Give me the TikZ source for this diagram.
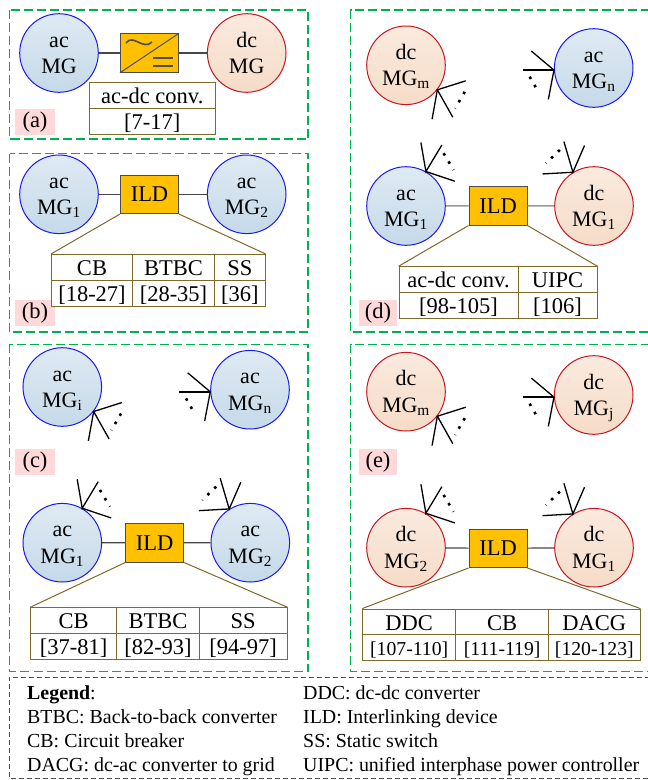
\documentclass[tikz,border=0pt]{standalone}
\usepackage{fontspec}
\setmainfont{Liberation Serif}
\usetikzlibrary{arrows.meta}

\definecolor{framegreen}{HTML}{00B050}
\definecolor{legendgray}{HTML}{505050}
\definecolor{tagpink}{HTML}{FFD9D9}
\definecolor{ildgold}{HTML}{FFC000}
\definecolor{tablebrown}{HTML}{7F6A2A}
\definecolor{acblue}{HTML}{1A1AF0}
\definecolor{dcred}{HTML}{C8141E}
\definecolor{actop}{HTML}{DFEAF3}
\definecolor{acbottom}{HTML}{C5D9E9}
\definecolor{dctop}{HTML}{FAEADE}
\definecolor{dcbottom}{HTML}{F6DCC8}

\tikzset{
    frame/.style={draw=framegreen, line width=1.5pt, dash pattern=on 9pt off 4pt},
    legendframe/.style={draw=legendgray, line width=1pt, dash pattern=on 5pt off 3pt},
    tag/.style={fill=tagpink, inner sep=0pt, minimum height=25.7pt},
    acmg/.style={circle, draw=acblue, line width=1pt, inner sep=0pt, minimum size=78.6pt, align=center,
        top color=actop, bottom color=acbottom, text height=41pt, text depth=0pt, font=\fontsize{22pt}{26.5pt}\selectfont},
    dcmg/.style={circle, draw=dcred, line width=1pt, inner sep=0pt, minimum size=78.6pt, align=center,
        top color=dctop, bottom color=dcbottom, text height=41pt, text depth=0pt, font=\fontsize{22pt}{26.5pt}\selectfont},
    ild/.style={draw=black!70, line width=1pt, fill=ildgold, inner sep=0pt, minimum width=58pt, minimum height=38.5pt},
    link/.style={draw=black!72, line width=1.2pt},
    zoomline/.style={draw=tablebrown, line width=1pt},
    cell/.style={draw=tablebrown, line width=1pt, fill=white, inner sep=0pt, minimum height=25.8pt,
        text height=19pt, text depth=3pt},
    legendtext/.style={anchor=base west, inner sep=0pt, font=\fontsize{19.9pt}{22pt}\selectfont},
    spoke/.style={line width=1.3pt},
    dots/.style={line width=2.6pt, dash pattern=on 2.6pt off 6.9pt},
    fanbr/.pic={
        \draw[spoke] (28.4,-9) -- (0,0) -- (15.4,27.4);
        \draw[spoke] (0,0) -- (-5.3,29.4);
        \draw[dots] (27.4,2) -- (17.7,18.7);
    },
    fanl/.pic={
        \draw[line width=2pt] (-31.3,0) -- (0,0);
        \draw[spoke] (-22.6,-19) -- (0,0) -- (-5.6,29.3);
        \draw[dots] (-24.3,6.6) -- (-15.3,22.3);
    },
    fantr/.pic={
        \draw[spoke] (-5,-29) -- (0,0) -- (16,-26.6);
        \draw[spoke] (0,0) -- (29,9.7);
        \draw[dots] (17.7,-18.3) -- (27.7,-1.6);
    },
    fantl/.pic={
        \draw[spoke] (-9,-30.7) -- (0,0) -- (11.6,-26.7);
        \draw[spoke] (0,0) -- (-30.4,1.7);
        \draw[dots] (-13,-22.3) -- (-27,-9);
    },
}

\begin{document}
\begin{tikzpicture}[x=1pt, y=-1pt, font=\fontsize{22.5pt}{26.5pt}\selectfont]
    \useasboundingbox (0,0) rectangle (648,780);

    \draw[frame] (9.5,10) rectangle (308,139);
    \node[tag, minimum width=40pt] (taga) at (35,121.9) {(a)};
    \node[acmg] (aac) at (59,53) {ac\\MG};
    \node[dcmg] (adc) at (246.7,53) {dc\\MG};
    \node[ild] (aconv) at (149.5,53) {};
    \draw[link] (aac) -- (aconv);
    \draw[link] (aconv) -- (adc);
    \draw[draw=black!70, line width=1pt] (aconv.south west) -- (aconv.north east);
    \draw[draw=black!70, line width=1.6pt] (126,43) .. controls (133,33) and (143,51) .. (152,42);
    \draw[draw=black!70, line width=1.6pt] (152.7,57.7) -- (173.3,57.7);
    \draw[draw=black!70, line width=1.6pt] (152.7,65.7) -- (173.3,65.7);
    \node[cell, minimum width=125.5pt] (aconvh) at (152.25,95.4) {ac-dc conv.};
    \node[cell, minimum width=125.5pt] (aconvr) at (152.25,121.4) {[7-17]};

    \draw[frame] (9.5,153.5) rectangle (308,332);
    \node[tag, minimum width=40pt] (tagb) at (35,312.9) {(b)};
    \node[acmg] (bac1) at (59,194.3) {ac\\MG\textsubscript{1}};
    \node[acmg] (bac2) at (246.7,194.3) {ac\\MG\textsubscript{2}};
    \node[ild] (bild) at (149.5,194.3) {ILD};
    \draw[link] (bac1) -- (bild);
    \draw[link] (bild) -- (bac2);
    \node[cell, minimum width=80.6pt] (bcbh) at (92,267.3) {CB};
    \node[cell, minimum width=82.4pt] (bbtbch) at (173.5,267.3) {BTBC};
    \node[cell, minimum width=50.3pt] (bssh) at (239.85,267.3) {SS};
    \node[cell, minimum width=80.6pt] (bcbr) at (92,293.2) {[18-27]};
    \node[cell, minimum width=82.4pt] (bbtbcr) at (173.5,293.2) {[28-35]};
    \node[cell, minimum width=50.3pt] (bssr) at (239.85,293.2) {[36]};
    \draw[zoomline] (bild.south west) -- (bcbh.north west);
    \draw[zoomline] (bild.south east) -- (bssh.north east);

    \draw[frame] (9.5,344.3) rectangle (308,671.3);
    \node[tag, minimum width=40pt] (tagc) at (35,461.9) {(c)};
    \node[acmg] (cacn1) at (62.3,387) {ac\\MG\textsubscript{i}};
    \node[acmg] (cacn2) at (250,389.7) {ac\\MG\textsubscript{n}};
    \node[acmg] (cac1) at (62.3,542.7) {ac\\MG\textsubscript{1}};
    \node[acmg] (cac2) at (250.3,542.7) {ac\\MG\textsubscript{2}};
    \pic at (cacn1.-38) {fanbr};
    \pic at (cacn2.183) {fanl};
    \pic at (cac1.60) {fantr};
    \pic at (cac2.122) {fantl};
    \node[ild] (cild) at (154.7,542.8) {ILD};
    \draw[link] (cac1) -- (cild);
    \draw[link] (cild) -- (cac2);
    \node[cell, minimum width=86pt] (ccbh) at (73.7,620.7) {CB};
    \node[cell, minimum width=82.6pt] (cbtbch) at (158,620.7) {BTBC};
    \node[cell, minimum width=87.7pt] (cssh) at (243.15,620.7) {SS};
    \node[cell, minimum width=86pt] (ccbr) at (73.7,646.5) {[37-81]};
    \node[cell, minimum width=82.6pt] (cbtbcr) at (158,646.5) {[82-93]};
    \node[cell, minimum width=87.7pt] (cssr) at (243.15,646.5) {[94-97]};
    \draw[zoomline] (cild.south west) -- (ccbh.north west);
    \draw[zoomline] (cild.south east) -- (cssh.north east);

    \draw[frame] (650,10) -- (350.7,10) -- (350.7,332) -- (650,332);
    \node[tag, minimum width=38pt] (tagd) at (378,312.7) {(d)};
    \node[dcmg] (ddcm) at (406,65.3) {dc\\MG\textsubscript{m}};
    \node[acmg] (dacn) at (593.7,68) {ac\\MG\textsubscript{n}};
    \node[acmg] (dac1) at (406,206) {ac\\MG\textsubscript{1}};
    \node[dcmg] (ddc1) at (594,206) {dc\\MG\textsubscript{1}};
    \pic at (ddcm.-38) {fanbr};
    \pic at (dacn.183) {fanl};
    \pic at (dac1.60) {fantr};
    \pic at (ddc1.122) {fantl};
    \node[ild] (dild) at (498,205.8) {ILD};
    \draw[draw=black!40, line width=1.5pt] (dac1) -- (dild);
    \draw[draw=black!40, line width=1.5pt] (dild) -- (ddc1);
    \node[cell, minimum width=119pt] (dconvh) at (458.5,279.7) {ac-dc conv.};
    \node[cell, minimum width=79pt] (duipch) at (557.5,279.7) {UIPC};
    \node[cell, minimum width=119pt] (dconvr) at (458.5,305.5) {[98-105]};
    \node[cell, minimum width=79pt] (duipcr) at (557.5,305.5) {[106]};
    \draw[zoomline] (dild.south west) -- (dconvh.north west);
    \draw[zoomline] (dild.south east) -- (duipch.north east);

    \draw[frame] (650,344.3) -- (350.7,344.3) -- (350.7,671.3) -- (650,671.3);
    \node[tag, minimum width=38pt] (tage) at (378,461.9) {(e)};
    \node[dcmg] (edcm) at (406,391.7) {dc\\MG\textsubscript{m}};
    \node[dcmg] (edcj) at (593.7,395) {dc\\MG\textsubscript{j}};
    \node[dcmg] (edc2) at (406,547.7) {dc\\MG\textsubscript{2}};
    \node[dcmg] (edc1) at (594,547.7) {dc\\MG\textsubscript{1}};
    \pic at (edcm.-38) {fanbr};
    \pic at (edcj.183) {fanl};
    \pic at (edc2.60) {fantr};
    \pic at (edc1.122) {fantl};
    \node[ild] (eild) at (498,548.3) {ILD};
    \draw[link] (edc2) -- (eild);
    \draw[link] (eild) -- (edc1);
    \node[cell, minimum width=93pt] (eddch) at (409.2,622) {DDC};
    \node[cell, minimum width=93pt] (ecbh) at (502.2,622) {CB};
    \node[cell, minimum width=91.3pt] (edacgh) at (594.35,622) {DACG};
    \node[cell, minimum width=93pt, font=\fontsize{19.7pt}{24pt}\selectfont] (eddcr) at (409.2,647.85) {[107-110]};
    \node[cell, minimum width=93pt, font=\fontsize{19.7pt}{24pt}\selectfont] (ecbr) at (502.2,647.85) {[111-119]};
    \node[cell, minimum width=91.3pt, font=\fontsize{19.7pt}{24pt}\selectfont] (edacgr) at (594.35,647.85) {[120-123]};
    \draw[zoomline] (eild.south west) -- (eddch.north west);
    \draw[zoomline] (eild.south east) -- (edacgh.north east);

    \draw[legendframe] (650,677.3) -- (9,677.3) -- (9,778.3) -- (650,778.3);
    \node[legendtext] (leg) at (27,699) {\textbf{Legend}:};
    \node[legendtext] (legbtbc) at (27,723) {BTBC: Back-to-back converter};
    \node[legendtext] (legcb) at (27,747) {CB: Circuit breaker};
    \node[legendtext] (legdacg) at (27,771) {DACG: dc-ac converter to grid};
    \node[legendtext] (legddc) at (303,699) {DDC: dc-dc converter};
    \node[legendtext] (legild) at (303,723) {ILD: Interlinking device};
    \node[legendtext] (legss) at (303,747) {SS: Static switch};
    \node[legendtext] (leguipc) at (303,771) {UIPC: unified interphase power controller};
\end{tikzpicture}
\end{document}
